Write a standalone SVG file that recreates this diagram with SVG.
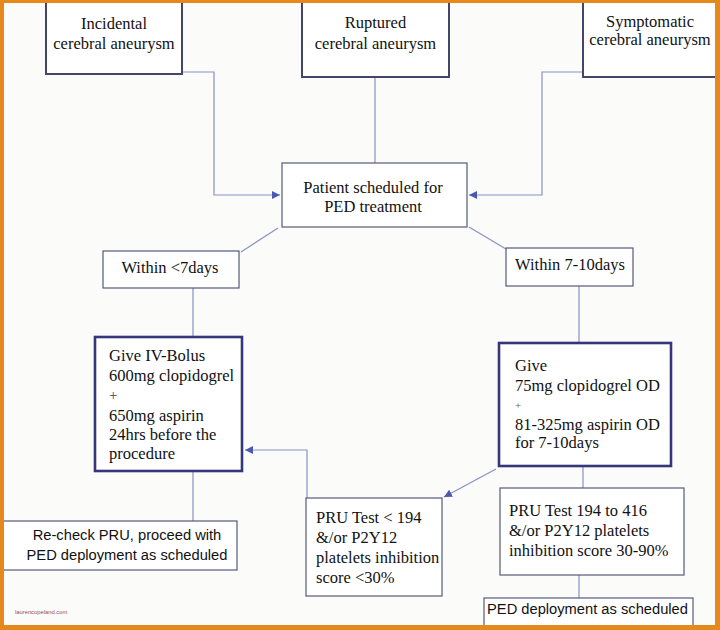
<svg xmlns="http://www.w3.org/2000/svg" width="720" height="630" viewBox="0 0 720 630">
<style>
.serif{font-family:"Liberation Serif","Times New Roman",serif;font-size:16.5px;fill:#111}
.sans{font-family:"Liberation Sans",Arial,sans-serif;font-size:14.7px;fill:#111}
.mid{text-anchor:middle}
.top{fill:#fff;stroke:#45456a;stroke-width:2}
.thin{fill:#fff;stroke:#55597a;stroke-width:1.2}
.thick{fill:#fff;stroke:#36367a;stroke-width:2.6}
.conn{fill:none;stroke:#8a90c4;stroke-width:1.2}
</style>
<defs>
<marker id="arr" markerUnits="userSpaceOnUse" markerWidth="10" markerHeight="8" refX="8" refY="4" orient="auto">
<path d="M0,0 L8,4 L0,8 Z" fill="#4a58b0"/>
</marker>
</defs>
<rect x="0" y="0" width="720" height="630" fill="#fbfcfa"/>

<g id="connectors">
<polyline class="conn" points="182,72 214,72 214,195 280,195" marker-end="url(#arr)"/>
<line class="conn" x1="375" y1="77" x2="375" y2="163"/>
<polyline class="conn" points="583,72 542,72 542,195 469,195" marker-end="url(#arr)"/>
<line class="conn" x1="278" y1="228" x2="241" y2="252"/>
<line class="conn" x1="469" y1="227" x2="506" y2="249"/>
<line class="conn" x1="193" y1="288" x2="193" y2="337"/>
<line class="conn" x1="579" y1="286" x2="579" y2="343"/>
<line class="conn" x1="193" y1="471" x2="193" y2="521"/>
<line class="conn" x1="583" y1="466" x2="583" y2="488"/>
<line class="conn" x1="496" y1="469" x2="444" y2="497" marker-end="url(#arr)"/>
<polyline class="conn" points="307,498 307,450 245,450" marker-end="url(#arr)"/>
<line class="conn" x1="579" y1="575" x2="579" y2="598"/>
</g>

<g id="incidental">
<rect class="top" x="46" y="-4" width="136" height="78"/>
<text class="serif mid" x="114" y="29">Incidental</text>
<text class="serif mid" x="114" y="49">cerebral aneurysm</text>
</g>
<g id="ruptured">
<rect class="top" x="302" y="-4" width="147" height="81"/>
<text class="serif mid" x="375.5" y="28">Ruptured</text>
<text class="serif mid" x="375.5" y="49">cerebral aneurysm</text>
</g>
<g id="symptomatic">
<rect class="top" x="583" y="-4" width="134" height="81"/>
<text class="serif mid" x="650" y="27">Symptomatic</text>
<text class="serif mid" x="650" y="45">cerebral aneurysm</text>
</g>
<g id="patient">
<rect class="thin" x="282" y="163" width="185" height="64"/>
<text class="serif mid" x="373" y="193">Patient scheduled for</text>
<text class="serif mid" x="373" y="212">PED treatment</text>
</g>
<g id="within7">
<rect class="thin" x="103" y="251" width="136" height="37"/>
<text class="serif mid" x="170" y="273">Within &lt;7days</text>
</g>
<g id="within710">
<rect class="thin" x="506" y="248" width="127" height="38"/>
<text class="serif mid" x="570" y="270">Within 7-10days</text>
</g>
<g id="ivbolus">
<rect class="thick" x="95" y="337" width="147" height="134"/>
<text class="serif" x="109" y="361">Give IV-Bolus</text>
<text class="serif" x="109" y="381">600mg clopidogrel</text>
<text class="serif" x="109" y="400" style="font-size:15px;fill:#444">+</text>
<text class="serif" x="109" y="421">650mg aspirin</text>
<text class="serif" x="109" y="440">24hrs before the</text>
<text class="serif" x="109" y="459">procedure</text>
</g>
<g id="give">
<rect class="thick" x="499" y="343" width="172" height="123"/>
<text class="serif" x="515" y="371">Give</text>
<text class="serif" x="515" y="391">75mg clopidogrel OD</text>
<text class="serif" x="515" y="409" style="font-size:11px;fill:#555">+</text>
<text class="serif" x="515" y="430">81-325mg aspirin OD</text>
<text class="serif" x="515" y="448">for 7-10days</text>
</g>
<g id="recheck">
<rect class="thin" x="-2" y="521" width="239" height="49"/>
<text class="sans mid" x="127" y="540">Re-check PRU, proceed with</text>
<text class="sans mid" x="127" y="560">PED deployment as scheduled</text>
</g>
<g id="pruless">
<rect class="thin" x="306" y="498" width="136" height="98"/>
<text class="serif" x="316" y="523">PRU Test &lt; 194</text>
<text class="serif" x="316" y="543">&amp;/or P2Y12</text>
<text class="serif" x="316" y="563">platelets inhibition</text>
<text class="serif" x="316" y="583">score &lt;30%</text>
</g>
<g id="prurange">
<rect class="thin" x="500" y="488" width="184" height="87"/>
<text class="serif" x="509" y="516">PRU Test 194 to 416</text>
<text class="serif" x="509" y="536">&amp;/or P2Y12 platelets</text>
<text class="serif" x="509" y="556">inhibition score 30-90%</text>
</g>
<g id="ped">
<rect class="thin" x="484" y="598" width="209" height="34"/>
<text class="sans mid" x="587.5" y="614">PED deployment as scheduled</text>
</g>

<text x="15" y="614" style="font-family:'Liberation Sans',Arial,sans-serif;font-size:5.8px;fill:#a04858">laurencopeland.com</text>

<g id="frame" fill="#e5891c">
<rect x="0" y="0" width="720" height="3"/>
<rect x="0" y="0" width="4" height="630"/>
<rect x="715" y="0" width="5" height="630"/>
<rect x="0" y="625" width="720" height="5"/>
</g>
</svg>
